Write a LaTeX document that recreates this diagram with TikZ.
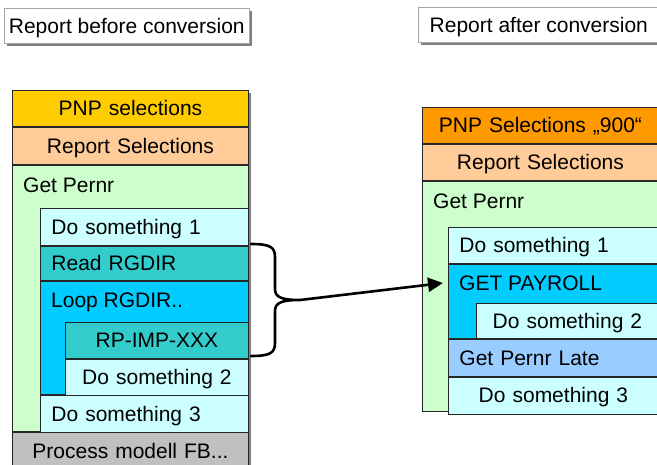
\documentclass[tikz,border=0pt]{standalone}
\usepackage{fontspec}
\setmainfont{Liberation Sans}
\usetikzlibrary{positioning,shadows,arrows.meta}

\definecolor{pnpyellow}{HTML}{FFCC00}
\definecolor{pnporange}{HTML}{FF9900}
\definecolor{repsel}{HTML}{FFCC99}
\definecolor{pernrgreen}{HTML}{CCFFCC}
\definecolor{dopale}{HTML}{CCFFFF}
\definecolor{readteal}{HTML}{33CCCC}
\definecolor{loopblue}{HTML}{00CCFF}
\definecolor{lateblue}{HTML}{99CCFF}
\definecolor{processgray}{HTML}{C0C0C0}

\begin{document}
\begin{tikzpicture}[x=1pt,y=-1pt,>={Triangle[length=15pt,width=14pt]},
		font=\fontsize{21pt}{25pt}\selectfont,
		box/.style={draw=black!85,line width=0.9pt,inner sep=0pt,text height=15pt,text depth=0pt,anchor=north west},
		cbox/.style={box,align=center,text width=#1},
		lbox/.style={box,align=left,inner xsep=11pt,text width=#1},
		tag/.style={anchor=north west,inner sep=0pt,text height=15pt,text depth=0pt},
		title/.style={draw=black!35,line width=0.6pt,fill=white,inner sep=0pt,anchor=north west,
			text height=15pt,text depth=0pt,drop shadow={shadow xshift=3pt,shadow yshift=-3pt,fill=black!50,opacity=1}},
		shade/.style={fill=black!50},
		brace/.style={line width=2.6pt,line join=round,line cap=round}]
		\useasboundingbox (0,0) rectangle (657,464);
		
		% titles
		\node[title,minimum width=245pt,minimum height=35pt] (t1) at (4,8) {Report before conversion};
		\node[title,minimum width=241pt,minimum height=35pt] (t2) at (418,7) {Report after conversion};
		
		% before
		\fill[shade] (15,93) rectangle (251,470);
		\node[cbox=236,fill=pnpyellow,minimum height=36pt] (b1) at (12,90) {PNP selections};
		\node[cbox=236,fill=repsel,minimum height=37pt,below=0pt of b1] (b2) {Report Selections};
		\node[box,fill=pernrgreen,minimum width=236pt,minimum height=266pt,below=0pt of b2] (b3) {};
		\node[tag] (b3t) at ([shift={(11pt,-12pt)}]b3.north west) {Get Pernr};
		\node[lbox=186,fill=dopale,minimum height=37pt,anchor=north east] (b4) at ([yshift=-43pt]b3.north east) {Do something 1};
		\node[lbox=186,fill=readteal,minimum height=34pt,below=0pt of b4] (b5) {Read RGDIR};
		\node[box,fill=loopblue,minimum width=208pt,minimum height=113pt,below=0pt of b5] (b6) {};
		\node[tag] (b6t) at ([shift={(11pt,-12pt)}]b6.north west) {Loop RGDIR..};
		\node[cbox=183,fill=readteal,minimum height=36pt,anchor=north east] (b7) at ([yshift=-41pt]b6.north east) {RP-IMP-XXX};
		\node[cbox=183,fill=dopale,minimum height=36pt,below=0pt of b7] (b8) {Do something 2};
		\node[lbox=186,fill=dopale,minimum height=39pt,below=0pt of b6] (b9) {Do something 3};
		\node[cbox=236,fill=processgray,minimum height=37pt,below=0pt of b3] (b10) {Process modell FB...};
		
		% after
		\fill[shade] (425,110) rectangle (661,412);
		\node[cbox=236,fill=pnporange,minimum height=36pt] (a1) at (422,107) {PNP Selections „900“};
		\node[cbox=236,fill=repsel,minimum height=36pt,below=0pt of a1] (a2) {Report Selections};
		\node[box,fill=pernrgreen,minimum width=236pt,minimum height=230pt,below=0pt of a2] (a3) {};
		\node[tag] (a3t) at ([shift={(11pt,-12pt)}]a3.north west) {Get Pernr};
		\node[lbox=188,fill=dopale,minimum height=36pt,anchor=north east] (a4) at ([yshift=-46pt]a3.north east) {Do something 1};
		\node[box,fill=loopblue,minimum width=210pt,minimum height=74pt,below=0pt of a4] (a5) {};
		\node[tag] (a5t) at ([shift={(11pt,-12pt)}]a5.north west) {GET PAYROLL};
		\node[cbox=182,fill=dopale,minimum height=35pt,anchor=south east] (a6) at (a5.south east) {Do something 2};
		\node[lbox=188,fill=lateblue,minimum height=37pt,below=0pt of a5] (a7) {Get Pernr Late};
		\node[cbox=210,fill=dopale,minimum height=37pt,below=0pt of a7] (a8) {Do something 3};
		
		% brace and arrow
		\draw[brace] (251,244) .. controls (270,244) and (275,247) .. (275,257) -- (275,289)
			.. controls (275,297) and (281,300) .. (300,300)
			.. controls (281,300) and (275,303) .. (275,311) -- (275,343)
			.. controls (275,353) and (270,356) .. (251,356);
		\coordinate (tip) at (300,300);
		\coordinate (aim) at (443,283);
		\draw[->,line width=2.6pt] (tip) -- (aim);
\end{tikzpicture}
\end{document}
